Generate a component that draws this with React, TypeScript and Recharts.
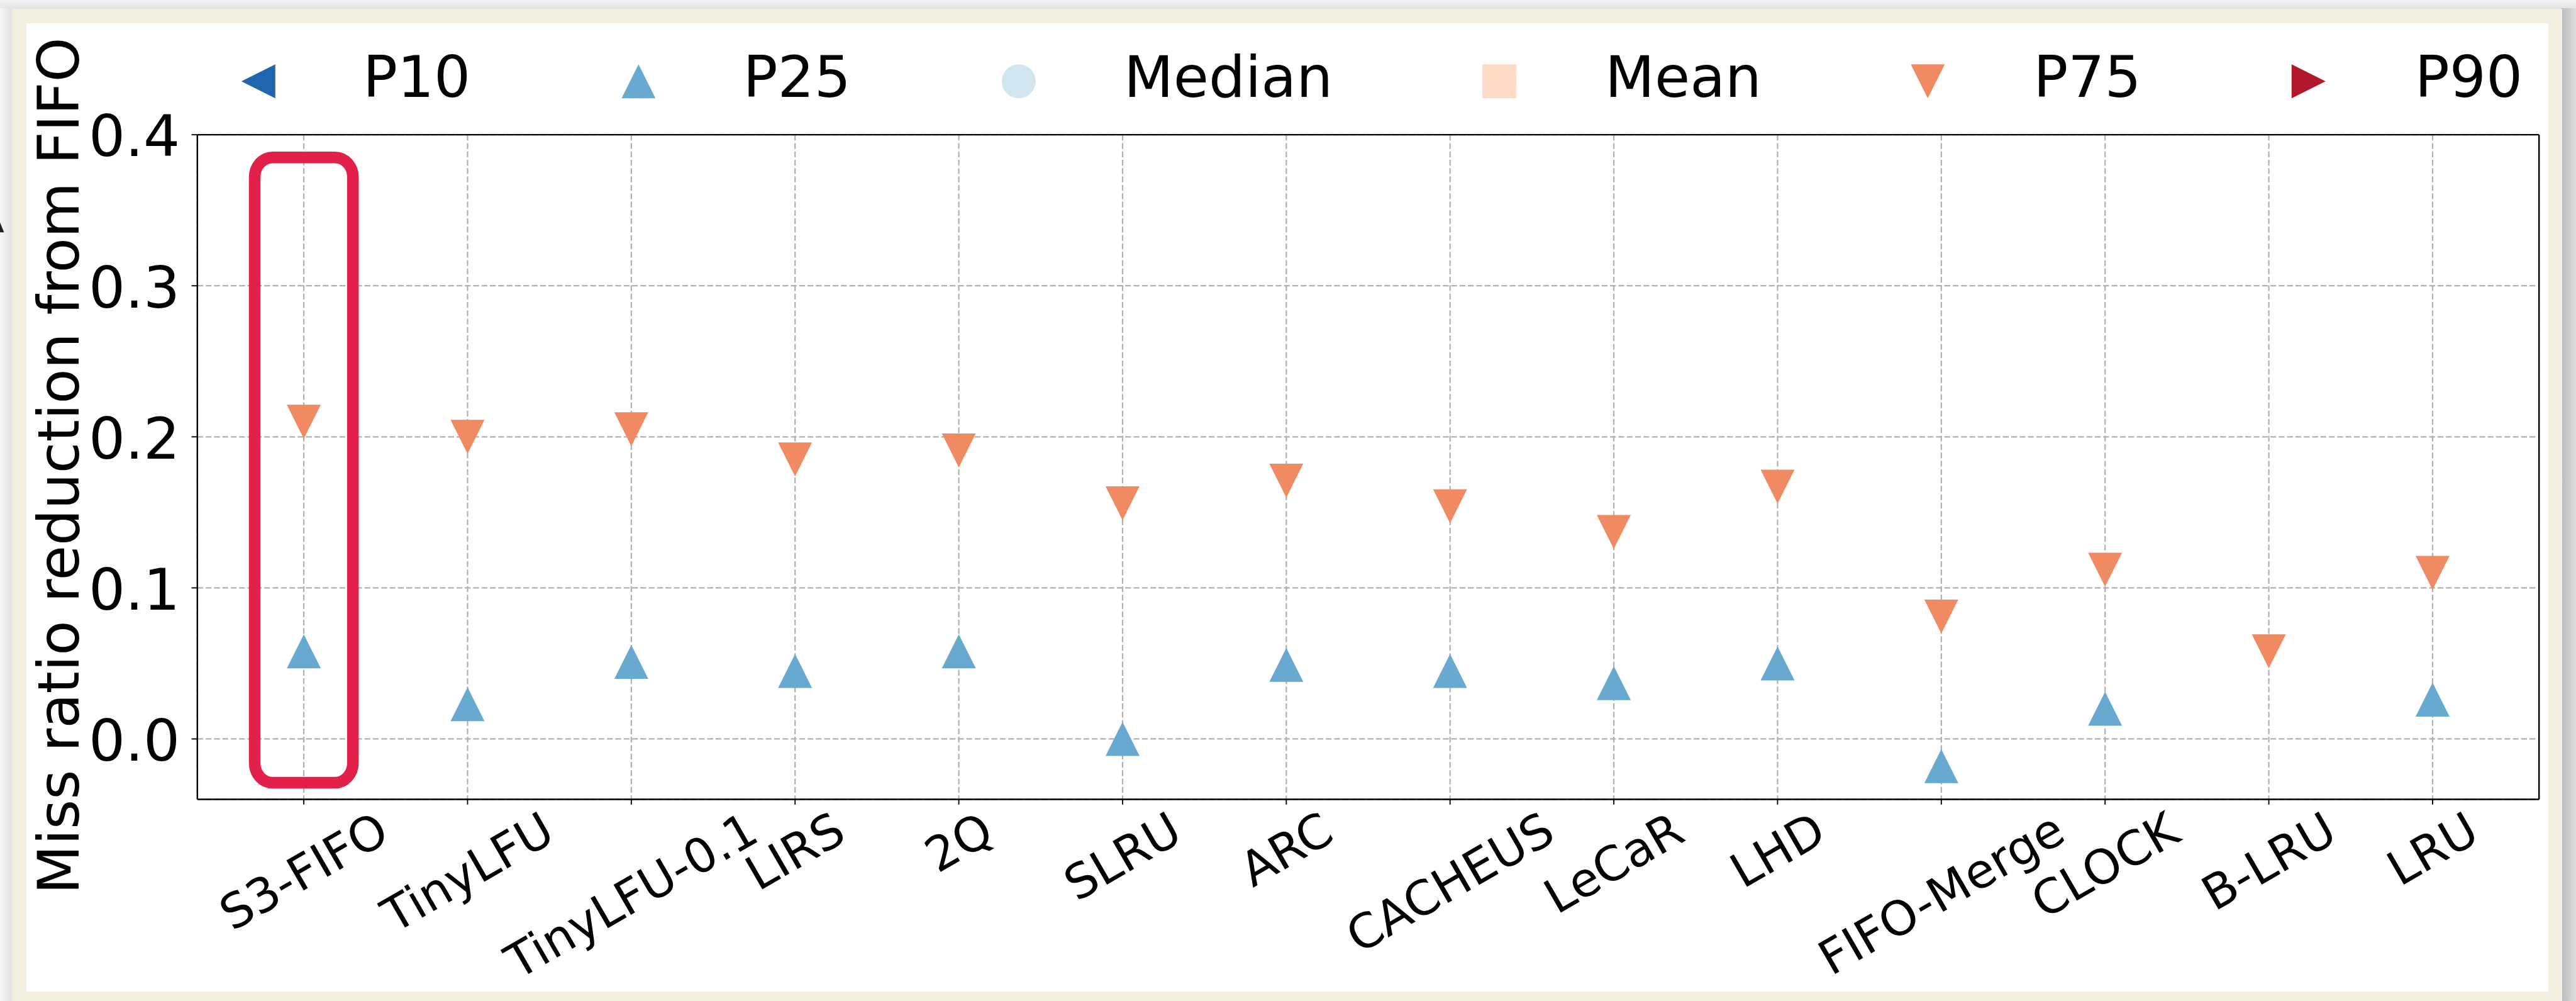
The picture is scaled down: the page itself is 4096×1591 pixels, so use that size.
import React from "react";
import {
  ScatterChart,
  Scatter,
  XAxis,
  YAxis,
  CartesianGrid,
  ReferenceArea,
  ReferenceLine,
} from "recharts";

// ---------------- data ----------------
const CATEGORIES = [
  "S3-FIFO",
  "TinyLFU",
  "TinyLFU-0.1",
  "LIRS",
  "2Q",
  "SLRU",
  "ARC",
  "CACHEUS",
  "LeCaR",
  "LHD",
  "FIFO-Merge",
  "CLOCK",
  "B-LRU",
  "LRU",
];
const P10: (number | null)[] = [];
const P25: (number | null)[] = [0.058, 0.023, 0.051, 0.045, 0.058, 0.0, 0.049, 0.045, 0.037, 0.05, -0.018, 0.02, null, 0.026];
const MEDIAN: (number | null)[] = [];
const MEAN: (number | null)[] = [];
const P75: (number | null)[] = [0.21, 0.2, 0.205, 0.185, 0.191, 0.156, 0.171, 0.154, 0.137, 0.167, 0.081, 0.112, 0.058, 0.11];
const P90: (number | null)[] = [];
const Y_TICKS = [0, 0.1, 0.2, 0.3, 0.4];
const Y_DOMAIN: [number, number] = [-0.04, 0.4];
const X_DOMAIN: [number, number] = [-0.65, 13.65];
const HIGHLIGHT = { x1: -0.3, x2: 0.3, y1: -0.029, y2: 0.385 };
const Y_TITLE = "Miss ratio reduction from FIFO";

type Marker = "left" | "up" | "circle" | "square" | "down" | "right";
const SERIES: { name: string; values: (number | null)[]; color: string; marker: Marker }[] = [
  { name: "P10", values: P10, color: "#2166ac", marker: "left" },
  { name: "P25", values: P25, color: "#67a9cf", marker: "up" },
  { name: "Median", values: MEDIAN, color: "#d1e5f0", marker: "circle" },
  { name: "Mean", values: MEAN, color: "#fddbc7", marker: "square" },
  { name: "P75", values: P75, color: "#ef8a62", marker: "down" },
  { name: "P90", values: P90, color: "#b2182b", marker: "right" },
];

// ---------------- layout ----------------
const S = 0.923;
const W = 4096;
const H = 1591;
const FONT = '"DejaVu Sans", "Liberation Sans", sans-serif';
const PLOT_LEFT = 340 * S;
const PLOT_TOP = 232 * S;
const PLOT_RIGHT = 4374 * S;
const PLOT_BOTTOM = 1376.5 * S;
const MARKER = 58.5 * S;
const BIG_FONT = 99 * S;
const XTICK_FONT = 82 * S;
const TICK_LEN_X = 9 * S;
const TICK_LEN_Y = 10 * S;
const SPINE = 2.6 * S;
const LEGEND_MARKER_X = [445, 1100, 1755, 2583, 3321, 3977].map((v) => v * S);
const LEGEND_TEXT_X = [625, 1280, 1936, 2765, 3503, 4160].map((v) => v * S);
const LEGEND_MARKER_Y = 140 * S;
const LEGEND_BASELINE = 167 * S;

let ctx: CanvasRenderingContext2D | null = null;
function measure(text: string, fs: number): number {
  try {
    if (!ctx) ctx = document.createElement("canvas").getContext("2d");
    if (ctx) {
      ctx.font = `${fs}px "DejaVu Sans"`;
      return ctx.measureText(text).width;
    }
  } catch (e) {}
  return text.length * fs * 0.6;
}

function markerPath(m: Marker, cx: number, cy: number, s: number) {
  const h = s / 2;
  switch (m) {
    case "up":
      return `M${cx},${cy - h}L${cx - h},${cy + h}L${cx + h},${cy + h}Z`;
    case "down":
      return `M${cx},${cy + h}L${cx - h},${cy - h}L${cx + h},${cy - h}Z`;
    case "left":
      return `M${cx - h},${cy}L${cx + h},${cy - h}L${cx + h},${cy + h}Z`;
    case "right":
      return `M${cx + h},${cy}L${cx - h},${cy - h}L${cx - h},${cy + h}Z`;
    case "square":
      return `M${cx - h},${cy - h}H${cx + h}V${cy + h}H${cx - h}Z`;
    default:
      return `M${cx - h},${cy}a${h},${h} 0 1,0 ${s},0a${h},${h} 0 1,0 ${-s},0Z`;
  }
}

const makeShape = (m: Marker, color: string) => (props: any) => {
  const { cx, cy } = props;
  if (cx == null || cy == null) return <g />;
  return <path d={markerPath(m, cx, cy, MARKER)} fill={color} stroke="none" />;
};

function XTick(props: any) {
  const { x, y, payload } = props;
  const label = CATEGORIES[payload.value] ?? "";
  const fs = XTICK_FONT;
  const w = measure(label, fs);
  const y0 = y - TICK_LEN_X + 3.5 * S;
  const bx = x + 0.173 * fs;
  const by = y0 + 0.25 * w + 0.804 * fs;
  return (
    <text
      x={bx}
      y={by}
      textAnchor="middle"
      transform={`rotate(-30 ${bx} ${by})`}
      fontSize={fs}
      fontFamily={FONT}
      fill="#000"
    >
      {label}
    </text>
  );
}

function YTick(props: any) {
  const { x, y, payload } = props;
  return (
    <text x={x} y={y + 0.3645 * BIG_FONT + 1} textAnchor="end" fontSize={BIG_FONT} fontFamily={FONT} fill="#000">
      {Number(payload.value).toFixed(1)}
    </text>
  );
}

function HighlightBox(props: any) {
  const { x, y, width, height } = props;
  return (
    <rect
      x={x}
      y={y}
      width={width}
      height={height}
      rx={31 * S}
      ry={34 * S}
      fill="none"
      stroke="#e2214b"
      strokeWidth={20 * S}
    />
  );
}

function toPoints(values: (number | null)[]) {
  return values
    .map((v, i) => (v == null ? null : { x: i, y: v }))
    .filter((p): p is { x: number; y: number } => p !== null);
}

export default function App() {
  return (
    <div
      style={{
        position: "fixed",
        left: 0,
        top: 0,
        width: W,
        height: H,
        overflow: "hidden",
        background: "linear-gradient(90deg, #f6f6f6 0px, #e2e2e2 19px)",
      }}
    >
      {/* top strip */}
      <div style={{ position: "absolute", left: 0, top: 0, width: W, height: 14 * S, background: "linear-gradient(180deg, #f4f4f4, #e4e4e4)" }} />
      {/* right shadow */}
      <div style={{ position: "absolute", left: 4412 * S, top: 14 * S, width: W - 4412 * S, height: H, background: "linear-gradient(90deg, #b8b8b8, #dedede)" }} />
      {/* beige frame */}
      <div style={{ position: "absolute", left: 21 * S, top: 15 * S, width: (4414 - 21) * S, height: H, background: "#f2efdf" }} />
      {/* white paper */}
      <div style={{ position: "absolute", left: 46 * S, top: 40 * S, width: (4390 - 46) * S, height: (1708 - 40) * S, background: "#ffffff" }} />

      <div style={{ position: "absolute", left: 0, top: 0 }}>
        <ScatterChart
          width={W}
          height={H}
          margin={{ top: PLOT_TOP, right: W - PLOT_RIGHT, bottom: 0, left: 0 }}
        >
          <CartesianGrid stroke="#b0b0b0" strokeWidth={2.4 * S} strokeDasharray={`${10 * S} ${4.4 * S}`} />
          <XAxis
            type="number"
            dataKey="x"
            domain={X_DOMAIN}
            ticks={CATEGORIES.map((_, i) => i)}
            interval={0}
            allowDataOverflow
            height={H - PLOT_BOTTOM}
            tickSize={TICK_LEN_X}
            tickMargin={0}
            tickLine={{ stroke: "#000", strokeWidth: 2 * S }}
            axisLine={{ stroke: "#000", strokeWidth: SPINE }}
            tick={<XTick />}
          />
          <YAxis
            type="number"
            dataKey="y"
            domain={Y_DOMAIN}
            ticks={Y_TICKS}
            interval={0}
            allowDataOverflow
            width={PLOT_LEFT}
            tickSize={TICK_LEN_Y}
            tickMargin={(321 - 316 + 16) * S - 1}
            tickLine={{ stroke: "#000", strokeWidth: 2 * S }}
            axisLine={{ stroke: "#000", strokeWidth: SPINE }}
            tick={<YTick />}
          />
          <ReferenceLine y={Y_DOMAIN[1]} stroke="#000" strokeWidth={SPINE} ifOverflow="visible" />
          <ReferenceLine x={X_DOMAIN[1]} stroke="#000" strokeWidth={SPINE} ifOverflow="visible" />
          <ReferenceArea
            x1={HIGHLIGHT.x1}
            x2={HIGHLIGHT.x2}
            y1={HIGHLIGHT.y1}
            y2={HIGHLIGHT.y2}
            ifOverflow="visible"
            shape={<HighlightBox />}
          />
          {SERIES.map((s) => (
            <Scatter
              key={s.name}
              name={s.name}
              data={toPoints(s.values)}
              fill={s.color}
              shape={makeShape(s.marker, s.color)}
              isAnimationActive={false}
            />
          ))}
        </ScatterChart>
      </div>

      {/* legend + axis title */}
      <svg width={W} height={H} style={{ position: "absolute", left: 0, top: 0, pointerEvents: "none" }}>
        {SERIES.map((s, i) => (
          <g key={s.name}>
            <path d={markerPath(s.marker, LEGEND_MARKER_X[i], LEGEND_MARKER_Y, MARKER)} fill={s.color} />
            <text x={LEGEND_TEXT_X[i]} y={LEGEND_BASELINE} fontSize={BIG_FONT} fontFamily={FONT} fill="#000">
              {s.name}
            </text>
          </g>
        ))}
        <text
          x={135 * S}
          y={802 * S}
          textAnchor="middle"
          transform={`rotate(-90 ${135 * S} ${802 * S})`}
          fontSize={98 * S}
          fontFamily={FONT}
          fill="#000"
        >
          {Y_TITLE}
        </text>
        <path d={`M0,${383 * S}L${7 * S},${400 * S}L0,${400 * S}Z`} fill="#222" />
      </svg>
    </div>
  );
}
